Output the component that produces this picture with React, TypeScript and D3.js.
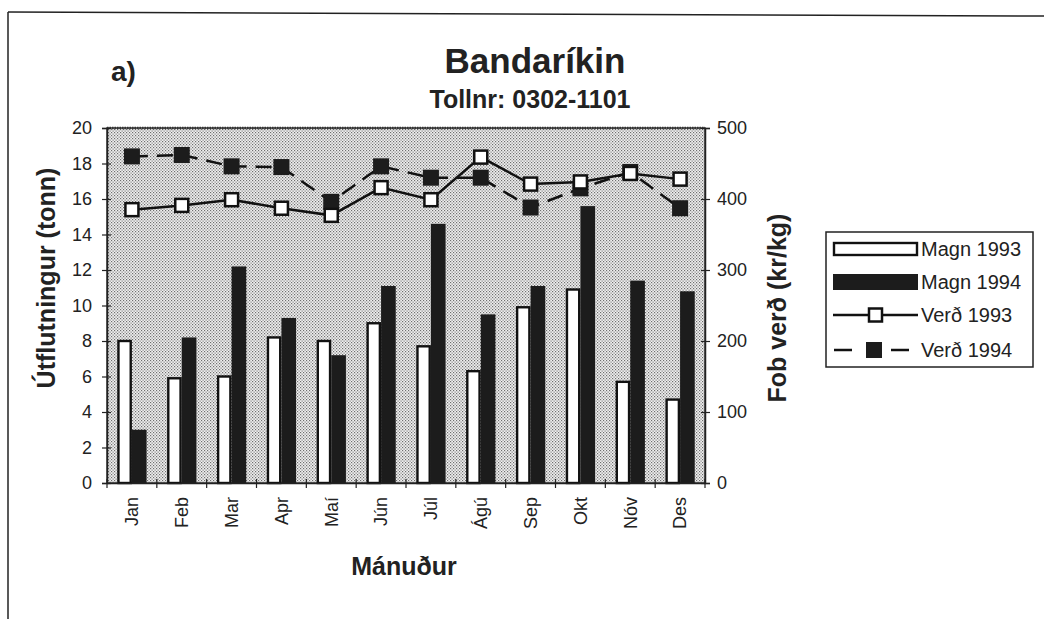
import React, { useEffect, useRef } from "react"
import * as d3 from "d3"

const months = ["Jan", "Feb", "Mar", "Apr", "Maí", "Jún", "Júl", "Ágú", "Sep", "Okt", "Nóv", "Des"]
const magn1993 = [8.0, 5.9, 6.0, 8.2, 8.0, 9.0, 7.7, 6.3, 9.9, 10.9, 5.7, 4.7]
const magn1994 = [3.0, 8.2, 12.2, 9.3, 7.2, 11.1, 14.6, 9.5, 11.1, 15.6, 11.4, 10.8]
const verd1993 = [385, 391, 399, 387, 377, 416, 399, 459, 421, 424, 436, 428]
const verd1994 = [460, 462, 446, 445, 396, 446, 430, 430, 388, 415, 438, 387]
const leftTicks = [0, 2, 4, 6, 8, 10, 12, 14, 16, 18, 20]
const rightTicks = [0, 100, 200, 300, 400, 500]
const seriesNames = ["Magn 1993", "Magn 1994", "Verð 1993", "Verð 1994"]

const App = () => {
  const ref = useRef<SVGSVGElement>(null)

  useEffect(() => {
    const svg = d3.select(ref.current)
    svg.selectAll("*").remove()
    const font = "'Liberation Sans', Arial, sans-serif"

    const margin = { top: 128, left: 107, right: 705, bottom: 483 }

    const defs = svg.append("defs")
    const pat = defs
      .append("pattern")
      .attr("id", "stipple")
      .attr("width", 3)
      .attr("height", 3)
      .attr("patternUnits", "userSpaceOnUse")
    pat.append("rect").attr("width", 3).attr("height", 3).attr("fill", "#f0f0f0")
    pat.append("rect").attr("width", 1.2).attr("height", 1.2).attr("fill", "#6e6e6e")
    pat.append("rect").attr("x", 1.5).attr("y", 1.5).attr("width", 1.2).attr("height", 1.2).attr("fill", "#7a7a7a")

    // outer frame
    svg.append("line").attr("x1", 8).attr("x2", 8).attr("y1", 12).attr("y2", 619).attr("stroke", "#222").attr("stroke-width", 1.5)
    svg.append("line").attr("x1", 8).attr("x2", 1044).attr("y1", 12).attr("y2", 16).attr("stroke", "#222").attr("stroke-width", 1.5)

    const x = d3.scaleBand().domain(months).range([margin.left, margin.right])
    const xSub = d3.scaleBand().domain(["a", "b"]).range([0, x.bandwidth()]).paddingInner(0).paddingOuter(0.7)
    const yL = d3.scaleLinear().domain([0, 20]).range([margin.bottom, margin.top])
    const yR = d3.scaleLinear().domain([0, 500]).range([margin.bottom, margin.top])

    svg
      .append("rect")
      .attr("x", margin.left)
      .attr("y", margin.top)
      .attr("width", margin.right - margin.left)
      .attr("height", margin.bottom - margin.top)
      .attr("fill", "url(#stipple)")
      .attr("stroke", "#333")
      .attr("stroke-width", 1.5)
    svg.append("line").attr("x1", margin.left).attr("x2", margin.right).attr("y1", margin.top).attr("y2", margin.top)
      .attr("stroke", "#333").attr("stroke-width", 2.5).attr("stroke-dasharray", "1.5,1")

    // bars
    const g = svg.append("g")
    months.forEach((m, i) => {
      g.append("rect")
        .attr("x", x(m)! + xSub("a")! + 1.2)
        .attr("y", yL(magn1993[i]))
        .attr("width", xSub.bandwidth() - 2.4)
        .attr("height", yL(0) - yL(magn1993[i]))
        .attr("fill", "#fff")
        .attr("stroke", "#111")
        .attr("stroke-width", 2.4)
      g.append("rect")
        .attr("x", x(m)! + xSub("b")!)
        .attr("y", yL(magn1994[i]))
        .attr("width", xSub.bandwidth())
        .attr("height", yL(0) - yL(magn1994[i]))
        .attr("fill", "#1c1c1c")
    })

    const cx = (m: string) => x(m)! + x.bandwidth() / 2
    const line = d3
      .line<number>()
      .x((d, i) => cx(months[i]))
      .y((d) => yR(d))

    svg.append("path").attr("d", line(verd1994)).attr("fill", "none").attr("stroke", "#111").attr("stroke-width", 2.5).attr("stroke-dasharray", "16,9")
    svg.append("path").attr("d", line(verd1993)).attr("fill", "none").attr("stroke", "#111").attr("stroke-width", 2.5)

    verd1994.forEach((v, i) => {
      svg.append("rect").attr("x", cx(months[i]) - 8).attr("y", yR(v) - 8).attr("width", 16).attr("height", 16).attr("fill", "#1c1c1c")
    })
    verd1993.forEach((v, i) => {
      svg
        .append("rect")
        .attr("x", cx(months[i]) - 6.5)
        .attr("y", yR(v) - 6.5)
        .attr("width", 13)
        .attr("height", 13)
        .attr("fill", "#fff")
        .attr("stroke", "#111")
        .attr("stroke-width", 2.5)
    })

    // axes
    const axL = svg.append("g").attr("transform", `translate(${margin.left},0)`).call(d3.axisLeft(yL).tickValues(leftTicks).tickSize(5))
    axL.selectAll(".tick line").attr("x1", 4).attr("x2", -5)
    const axR = svg.append("g").attr("transform", `translate(${margin.right},0)`).call(d3.axisRight(yR).tickValues(rightTicks).tickSize(5))
    axR.selectAll(".tick line").attr("x1", -4).attr("x2", 5)
    const axB = svg.append("g").attr("transform", `translate(0,${margin.bottom})`).call(d3.axisBottom(x).tickSize(0))
    ;[axL, axR, axB].forEach((a) => {
      a.select(".domain").attr("stroke", "#222").attr("stroke-width", 1.5)
      a.selectAll(".tick line").attr("stroke", "#222").attr("stroke-width", 1.2)
      a.selectAll("text").attr("font-family", font).attr("font-size", 18).attr("fill", "#222")
    })
    axL.selectAll("text").attr("x", -15)
    axR.selectAll("text").attr("x", 12)
    axB
      .selectAll(".tick text")
      .attr("transform", "rotate(-90)")
      .attr("text-anchor", "end")
      .attr("dy", "0.35em")
      .attr("x", -14)
      .attr("y", 0)
    // boundary ticks for months
    months.concat(["end"]).forEach((m, i) => {
      const bx = margin.left + i * x.bandwidth()
      svg.append("line").attr("x1", bx).attr("x2", bx).attr("y1", margin.bottom - 4).attr("y2", margin.bottom + 5).attr("stroke", "#222").attr("stroke-width", 1.2)
    })

    // titles
    const txt = (t: string, xx: number, yy: number, size: number, anchor = "middle", rot = 0) =>
      svg
        .append("text")
        .text(t)
        .attr("x", xx)
        .attr("y", yy)
        .attr("font-family", font)
        .attr("font-weight", "bold")
        .attr("font-size", size)
        .attr("fill", "#222")
        .attr("text-anchor", anchor)
        .attr("transform", rot ? `rotate(${rot},${xx},${yy})` : null)

    txt("a)", 111, 81, 28, "start")
    txt("Bandaríkin", 535, 73, 35)
    txt("Tollnr: 0302-1101", 530, 108, 25)
    txt("Útflutningur (tonn)", 55, 278, 25, "middle", -90)
    txt("Fob verð (kr/kg)", 786, 308, 25, "middle", -90)
    txt("Mánuður", 404, 575, 25)

    // legend
    const lg = svg.append("g").attr("transform", "translate(826,232)")
    lg.append("rect").attr("width", 207).attr("height", 135).attr("fill", "#fff").attr("stroke", "#222").attr("stroke-width", 1.5)
    const rowY = [17, 50, 83, 118]
    lg.append("rect").attr("x", 8).attr("y", rowY[0] - 6).attr("width", 83).attr("height", 12).attr("fill", "#fff").attr("stroke", "#111").attr("stroke-width", 2.4)
    lg.append("rect").attr("x", 7).attr("y", rowY[1] - 8).attr("width", 85).attr("height", 16).attr("fill", "#1c1c1c")
    lg.append("line").attr("x1", 7).attr("x2", 92).attr("y1", rowY[2]).attr("y2", rowY[2]).attr("stroke", "#111").attr("stroke-width", 2.5)
    lg.append("rect").attr("x", 43).attr("y", rowY[2] - 6.5).attr("width", 13).attr("height", 13).attr("fill", "#fff").attr("stroke", "#111").attr("stroke-width", 2.5)
    lg.append("line").attr("x1", 8).attr("x2", 26).attr("y1", rowY[3]).attr("y2", rowY[3]).attr("stroke", "#111").attr("stroke-width", 2.5)
    lg.append("line").attr("x1", 65).attr("x2", 83).attr("y1", rowY[3]).attr("y2", rowY[3]).attr("stroke", "#111").attr("stroke-width", 2.5)
    lg.append("rect").attr("x", 40).attr("y", rowY[3] - 8).attr("width", 16).attr("height", 16).attr("fill", "#1c1c1c")
    seriesNames.forEach((s, i) => {
      lg.append("text")
        .text(s)
        .attr("x", 95)
        .attr("y", rowY[i])
        .attr("dy", "0.36em")
        .attr("font-family", font)
        .attr("font-size", 20)
        .attr("fill", "#222")
    })
  }, [])

  return <svg ref={ref} width={1044} height={619} style={{ position: "absolute", left: 0, top: 0 }} />
}

export default App
